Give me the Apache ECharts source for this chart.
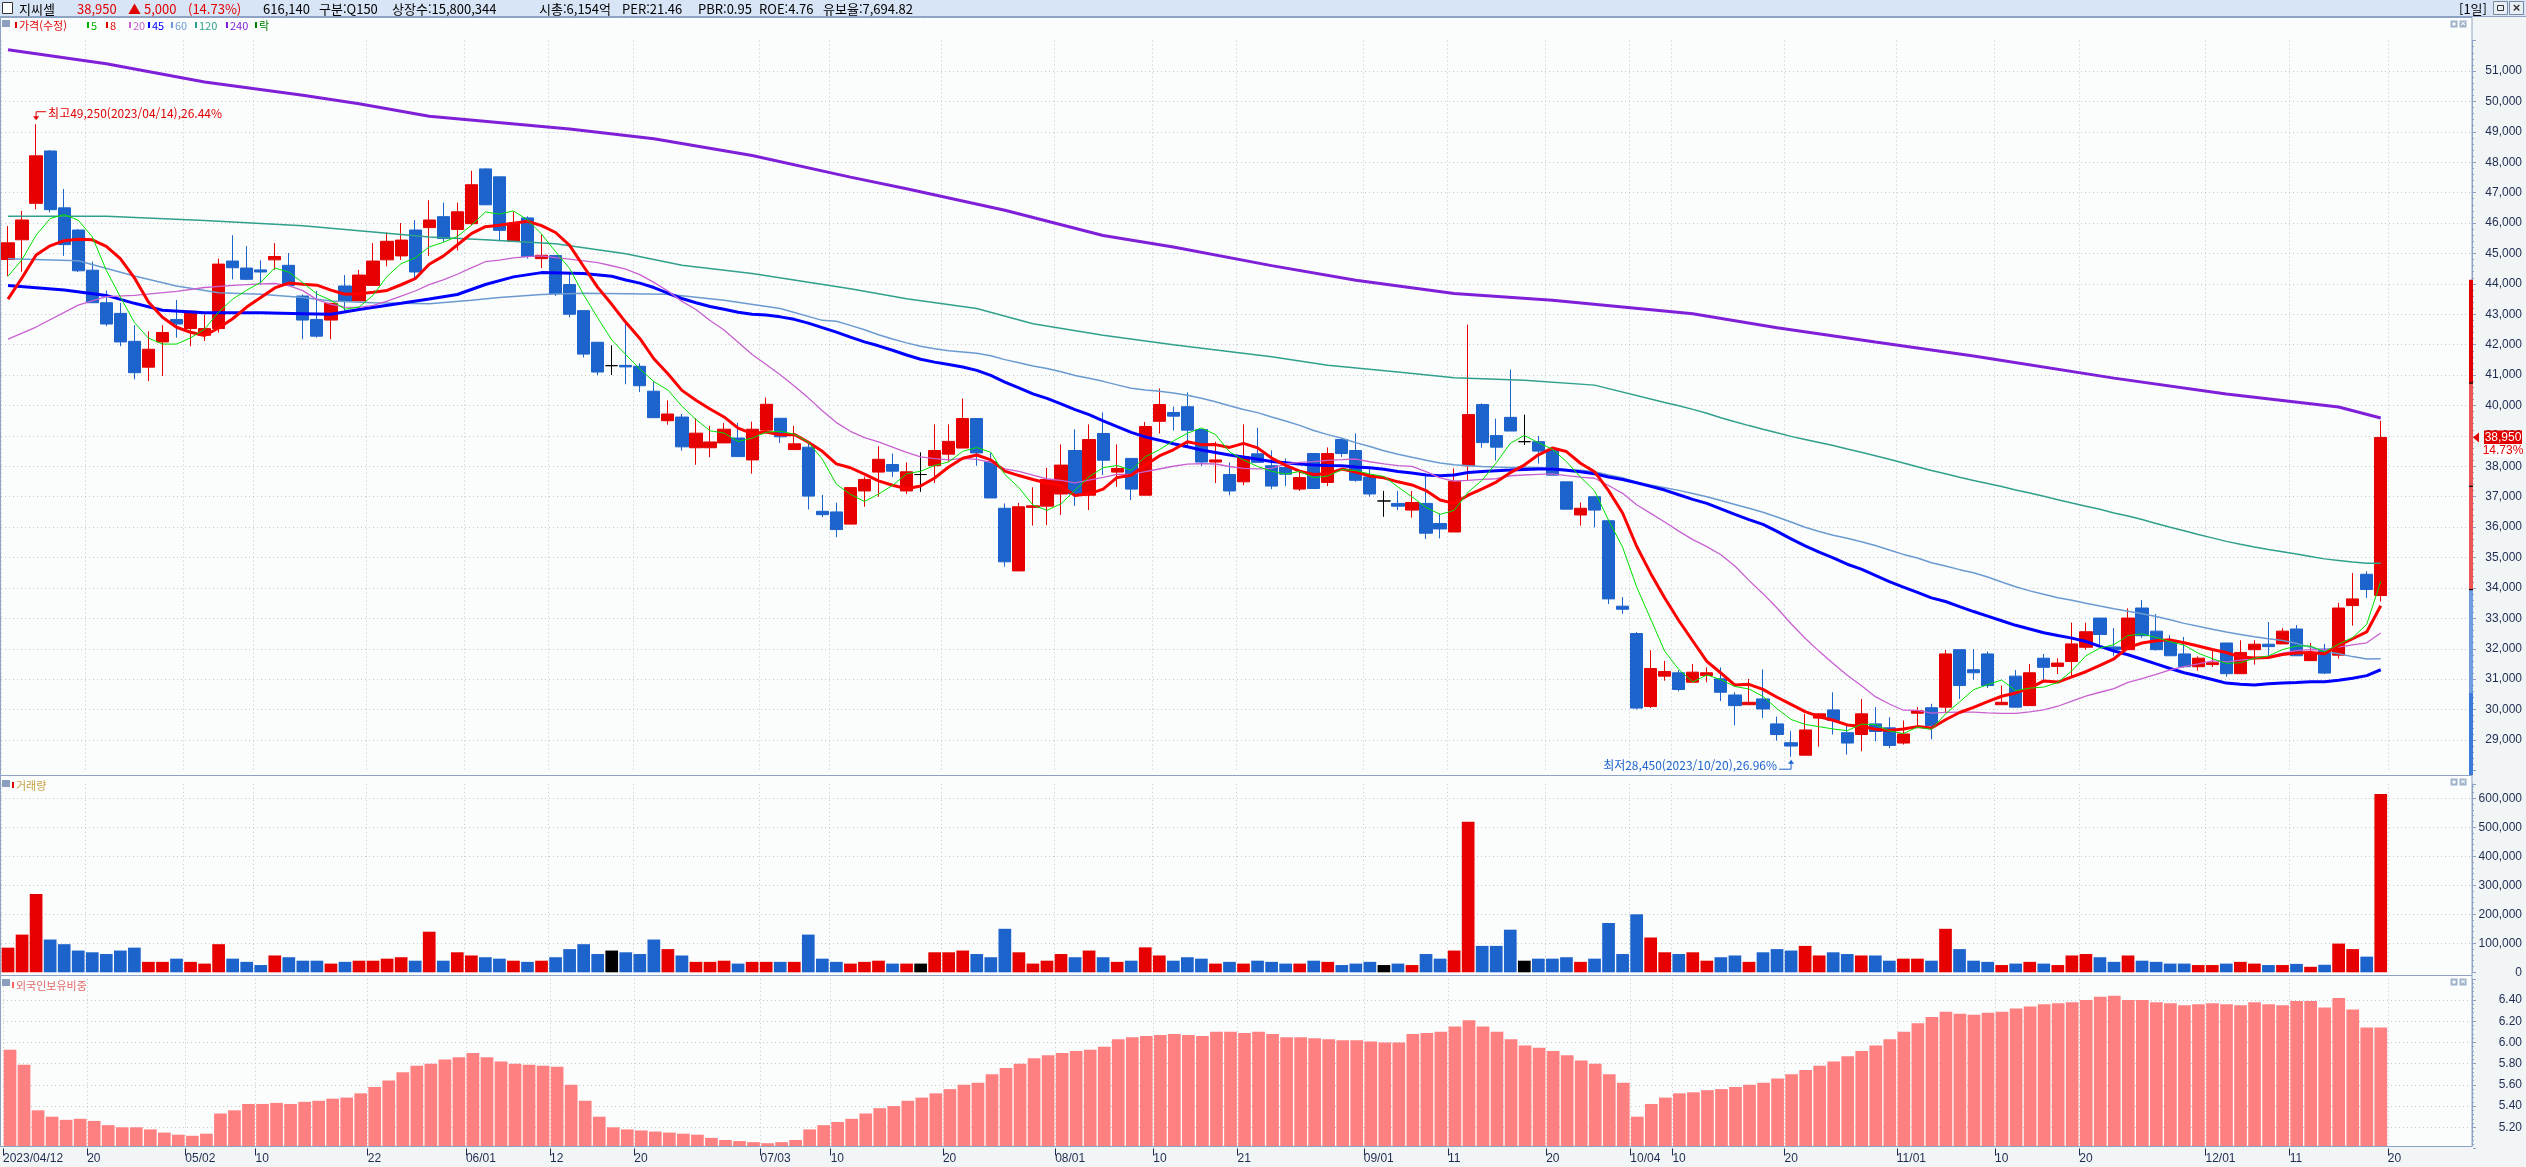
<!DOCTYPE html>
<html lang="ko">
<head>
<meta charset="utf-8">
<title>지씨셀 일봉</title>
<script src="https://cdn.jsdelivr.net/npm/echarts@6.0.0/dist/echarts.min.js"></script>
<style>
  html, body { margin: 0; padding: 0; background: #f2f5f6; }
  #chart { width: 2526px; height: 1167px; }
</style>
</head>
<body>
<div id="chart"></div>
<script>
// 거래일 2023
var dates = ['04/12','04/13','04/14','04/17','04/18','04/19','04/20','04/21','04/24','04/25','04/26','04/27','04/28',
  '05/02','05/03','05/04','05/08','05/09','05/10','05/11','05/12','05/15','05/16','05/17','05/18','05/19','05/22','05/23','05/24','05/25','05/26','05/30','05/31',
  '06/01','06/02','06/05','06/07','06/08','06/09','06/12','06/13','06/14','06/15','06/16','06/19','06/20','06/21','06/22','06/23','06/26','06/27','06/28','06/29','06/30',
  '07/03','07/04','07/05','07/06','07/07','07/10','07/11','07/12','07/13','07/14','07/17','07/18','07/19','07/20','07/21','07/24','07/25','07/26','07/27','07/28','07/31',
  '08/01','08/02','08/03','08/04','08/07','08/08','08/09','08/10','08/11','08/14','08/16','08/17','08/18','08/21','08/22','08/23','08/24','08/25','08/28','08/29','08/30','08/31',
  '09/01','09/04','09/05','09/06','09/07','09/08','09/11','09/12','09/13','09/14','09/15','09/18','09/19','09/20','09/21','09/22','09/25','09/26','09/27',
  '10/04','10/05','10/06','10/10','10/11','10/12','10/13','10/16','10/17','10/18','10/19','10/20','10/23','10/24','10/25','10/26','10/27','10/30','10/31',
  '11/01','11/02','11/03','11/06','11/07','11/08','11/09','11/10','11/13','11/14','11/15','11/16','11/17','11/20','11/21','11/22','11/23','11/24','11/27','11/28','11/29','11/30',
  '12/01','12/04','12/05','12/06','12/07','12/08','12/11','12/12','12/13','12/14','12/15','12/18','12/19'];

var opens = [44800,45450,46650,48370,46500,45770,44450,43380,43030,42110,41260,42090,42830,42530,42310,42530,44750,44520,44460,44790,
  44610,43600,42830,42810,43930,43440,43950,44790,44920,45770,45850,46210,45790,45980,47780,47520,45400,46170,44830,44930,
  43980,43120,42080,41310,41320,41290,40470,39500,39620,38610,38610,38770,38930,38210,39190,39580,38550,38630,36520,36500,
  36100,37190,37810,38060,37190,37730,38020,38400,38600,39570,38150,36620,34560,36650,36690,37090,38520,37050,39080,37810,
  38260,37050,39480,39770,39960,39210,38140,37730,37490,38410,38020,37960,37250,38420,37470,38880,38520,37650,36860,36780,
  36560,36780,36120,35840,38020,40030,39010,39610,38810,38810,38520,37490,36400,37000,36210,33400,32500,30100,31100,31210,
  30900,31120,31010,30480,30160,30350,29530,28910,28500,29720,29990,29240,29180,29530,29400,28900,29880,30060,30080,31970,
  31310,31830,30160,31100,30130,31690,31420,31580,32050,33010,32060,31970,33340,32580,32270,31830,31410,31480,32190,31180,
  31970,32150,32160,32650,31610,31990,31790,33420,34450,33750];
var highs = [45900,46400,49250,48400,47120,45800,44730,43780,43380,42640,42440,42640,43470,43100,42990,44830,45600,45240,44770,45340,
  45010,43650,43770,43360,44290,44460,45340,45690,46000,46100,46750,46670,46670,47720,47800,47520,46380,46220,45620,44930,
  44390,43120,42080,41980,42810,41390,40790,40170,39720,39580,39330,39430,39430,39470,40260,39580,39330,38820,37060,36800,
  37300,37660,38660,38420,38130,38460,39380,39380,40230,39570,38440,36780,36800,37310,37950,38720,39220,39380,39770,38720,
  38260,39460,40560,39960,40430,39210,38810,38130,39380,39270,38520,38260,37820,38420,38620,38880,39080,37910,37190,37190,
  37190,37770,36450,37930,42660,40070,39570,41180,39700,39000,38590,37490,36810,37000,36250,33700,32550,31950,31600,31300,
  31500,31390,31390,30570,31010,31320,29770,29290,29860,29860,30570,29480,30350,30080,29750,29640,30080,30190,31960,31970,
  31990,31910,30790,31300,31500,31830,31690,32860,32860,33010,32680,33330,33600,33140,32450,32390,31750,31940,32190,32280,
  32280,32880,32680,32780,32190,32160,33510,34490,34550,39500];
var lows = [44250,44400,46450,46350,44920,44390,43380,42610,41950,40860,40800,40970,42230,41950,42120,42400,44150,44120,43970,44460,
  43920,42180,42230,42180,43110,43440,43950,44580,44790,44150,44920,45380,45100,45920,46600,45400,45400,44830,44520,43600,
  42900,41580,41000,41000,40700,40440,39600,39370,38510,38050,38300,38770,38320,37760,39150,38770,38550,36580,36330,35670,
  36100,36670,37000,37650,37090,37160,37450,38150,38600,38020,36960,34700,34560,36050,36070,36400,36700,36560,37710,37330,
  36890,37050,39080,39180,38610,38010,37450,37050,37380,38130,37250,37350,37190,37250,37350,38310,37490,37000,36340,36560,
  36310,35610,35630,35840,37550,38610,38190,39160,38700,38090,37710,36590,36050,35990,33470,33150,30000,30050,30950,30600,
  30900,30900,30280,29480,30160,29720,28980,28450,28500,28780,29180,28520,28630,28960,28730,28850,29480,29020,29880,30350,
  30980,30710,30160,30070,30130,30980,31170,31080,31970,32130,31770,31970,32360,31940,31770,31380,31280,31400,31080,31180,
  31480,31750,32160,31770,31610,31170,31680,32760,33670,33550];
var closes = [45350,46100,48210,46440,45290,44430,43380,42680,42090,41080,41850,42400,42680,43100,42530,44650,44530,44150,44390,44900,
  43950,42810,42280,43360,43440,44290,44750,45400,45440,44390,46100,45490,46370,47260,46600,45760,46000,44900,44940,43680,
  43000,41690,41100,41310,41270,40650,39600,39720,38640,39090,38800,39220,38320,39220,40040,38970,38740,37020,36410,35920,
  37300,37570,38230,37840,37820,37730,38520,38820,39570,38440,36960,34860,36670,36700,37570,38040,37090,38880,38200,37930,
  37250,39310,40030,39650,39190,38140,38210,37190,38310,38130,37350,37740,37630,37270,38420,38420,37540,37090,36860,36690,
  36810,35800,35940,37510,39700,38780,38630,39160,38810,38500,37710,36590,36620,36560,33640,33300,30050,31350,31250,30660,
  31230,31210,30570,30130,30240,30020,29180,28800,29330,29860,29640,28900,29860,29280,28820,29200,29960,29480,31830,30790,
  31210,30790,30240,30080,31210,31390,31530,32160,32560,32470,31970,33010,32430,31970,31770,31410,31690,31540,31180,31880,
  32150,32070,32580,31770,31880,31200,33340,33640,33950,38950];
var volumes = [85000,130000,270000,113000,97000,75000,69000,63000,75000,85000,36000,36000,47000,36000,30000,97000,47000,36000,25000,58000,
  52000,40000,40000,30000,36000,40000,40000,47000,52000,40000,140000,40000,69000,58000,52000,47000,40000,36000,40000,52000,
  80000,97000,63000,75000,69000,63000,113000,80000,58000,36000,36000,40000,30000,36000,36000,36000,36000,130000,47000,36000,
  30000,36000,40000,30000,30000,30000,69000,69000,75000,63000,52000,150000,69000,30000,40000,63000,52000,75000,52000,36000,
  40000,86000,58000,40000,52000,47000,30000,36000,30000,40000,36000,30000,30000,40000,36000,25000,30000,36000,25000,30000,
  25000,63000,47000,75000,519000,91000,91000,147000,40000,47000,47000,52000,36000,47000,170000,63000,200000,120000,69000,63000,
  69000,40000,52000,58000,36000,69000,80000,75000,91000,58000,69000,63000,58000,58000,40000,47000,47000,40000,150000,80000,
  40000,36000,25000,30000,36000,30000,25000,58000,63000,52000,36000,58000,40000,36000,30000,30000,25000,25000,30000,36000,
  30000,25000,25000,29000,19000,26000,99000,80000,54000,615000];
var foreignRatio = [5.93,5.79,5.36,5.30,5.27,5.28,5.26,5.22,5.20,5.20,5.18,5.15,5.13,5.12,5.14,5.33,5.36,5.42,5.42,5.43,
  5.42,5.44,5.45,5.47,5.48,5.52,5.58,5.64,5.72,5.78,5.80,5.84,5.86,5.90,5.86,5.82,5.80,5.79,5.78,5.77,
  5.60,5.45,5.30,5.20,5.18,5.17,5.16,5.15,5.14,5.13,5.10,5.08,5.07,5.06,5.05,5.06,5.08,5.18,5.22,5.25,
  5.28,5.33,5.38,5.40,5.45,5.48,5.52,5.56,5.60,5.62,5.70,5.76,5.80,5.85,5.88,5.90,5.92,5.93,5.96,6.03,
  6.05,6.06,6.07,6.08,6.07,6.06,6.10,6.10,6.09,6.10,6.08,6.05,6.05,6.04,6.03,6.02,6.02,6.01,6.00,6.00,
  6.08,6.09,6.10,6.15,6.21,6.15,6.10,6.03,5.97,5.95,5.92,5.88,5.83,5.80,5.70,5.62,5.30,5.42,5.48,5.52,
  5.53,5.55,5.56,5.58,5.60,5.62,5.66,5.70,5.74,5.78,5.82,5.87,5.92,5.97,6.03,6.10,6.18,6.24,6.29,6.27,
  6.26,6.28,6.29,6.32,6.34,6.36,6.37,6.38,6.40,6.43,6.44,6.40,6.40,6.38,6.37,6.35,6.36,6.37,6.36,6.35,
  6.38,6.36,6.35,6.39,6.39,6.33,6.42,6.31,6.14,6.14];

// 이평선 앞부분 (화면에 보이는 값) [index, value]
var ma5Head = [[0,44250],[1,44800],[2,45600],[3,46150]];
var ma8Head = [[0,43500],[1,44200],[2,44950],[3,45250],[4,45420],[5,45470],[6,45450]];
var ma20Head = [[0,42180],[2,42580],[5,43300],[7,43580],[9,43620],[12,43750],[14,43880],[16,43950],[18,44000]];
var ma45Head = [[0,43950],[4,43800],[7,43620],[9,43360],[11,43130],[14,43050],[18,43050],[21,43020],[23,43000],
  [25,43160],[28,43360],[30,43500],[32,43650],[34,43980],[36,44230],[38,44370],[41,44340],[43,44250]];
var ma60Head = [[0,44830],[5,44760],[9,44260],[12,43930],[15,43710],[18,43660],[21,43550],[23,43440],[26,43380],
  [30,43350],[33,43460],[35,43550],[38,43650],[41,43690],[47,43660],[51,43460],[55,43190],[58,42800]];
var ma120Head = [[0,46220],[7,46220],[14,46080],[21,45910],[25,45750],[30,45540],[34,45450],[39,45320],[44,44990],
  [48,44610],[53,44340],[60,43840],[64,43510],[69,43190],[73,42690],[78,42310],[83,42000],[90,41600],[94,41320],
  [99,41100],[103,40910],[108,40830],[113,40670],[118,40100]];
var ma240Points = [[0,51700],[7,51240],[14,50640],[21,50200],[25,49920],[30,49510],[40,49090],[46,48770],[53,48220],
  [60,47510],[64,47130],[71,46420],[78,45590],[83,45210],[90,44600],[96,44120],[103,43680],[110,43460],[120,43020],
  [126,42560],[133,42090],[140,41630],[150,40900],[158,40380],[166,39950],[169,39590]];

var tickLabels = {'04/12':'2023/04/12','04/20':'20','05/02':'05/02','05/10':'10','05/22':'22','06/01':'06/01','06/12':'12',
  '06/20':'20','07/03':'07/03','07/10':'10','07/20':'20','08/01':'08/01','08/10':'10','08/21':'21','09/01':'09/01',
  '09/11':'11','09/20':'20','10/04':'10/04','10/10':'10','10/20':'20','11/01':'11/01','11/10':'10','11/20':'20',
  '12/01':'12/01','12/11':'11','12/20':'20'};

var prevClose = 33950;
var lastPrice = 38950;
// 가격대 바 (전일종가 대비 배율)
var limitBands = [[1.2, 1.3, '#e00000'], [1.0, 1.2, '#ec5555'], [0.9, 1.0, '#6f9de0'], [0.7, 0.9, '#3b7ad6']];
var limitMarks = [1.2, 1.1, 1.0];

var legendItems = [['가격(수정)', '#e00000', 15], ['5', '#00b000', 87], ['8', '#e00000', 106], ['20', '#c860d0', 129],
  ['45', '#0000ff', 148], ['60', '#6a9ad0', 171], ['120', '#30a08c', 195], ['240', '#7f1fd8', 226], ['락', '#008000', 255]];

var headerItems = [['지씨셀', 19, '#000'], ['38,950', 77, '#e00000'], ['▲ 5,000', 128, '#e00000'], ['(14.73%)', 188, '#e00000'],
  ['616,140', 263, '#000'], ['구분:Q150', 319, '#000'], ['상장수:15,800,344', 392, '#000'], ['시총:6,154억', 539, '#000'],
  ['PER:21.46', 622, '#000'], ['PBR:0.95', 698, '#000'], ['ROE:4.76', 759, '#000'], ['유보율:7,694.82', 823, '#000']];

var UP = '#e60000', DOWN = '#1d63cc', DOJI = '#000000';
var GRID_LINE = '#c3c8ce', AXIS = '#8ea3c3', LABEL = '#1e2b50', PANEL = '#fbfdfd', OUTER = '#f2f5f6';
var FONT_NUM = '"Liberation Sans", "Noto Sans CJK KR", sans-serif';
var FONT_KR = '"Noto Sans CJK KR", "Liberation Sans", sans-serif';

// 이동평균: 화면 밖 과거 데이터가 필요한 앞부분은 위에서 읽은 값을 사용
function movingAverage(n, head) {
  var out = [];
  for (var i = 0; i < closes.length; i++) {
    if (i >= n - 1) {
      var s = 0;
      for (var k = i - n + 1; k <= i; k++) s += closes[k];
      out.push(Math.round(s / n));
    } else {
      out.push(null);
    }
  }
  head.forEach(function (p) { out[p[0]] = p[1]; });
  return out;
}

var cats = dates.concat(['12/20', 'p1', 'p2', 'p3', 'p4', 'p5']);
var labelCats = cats.concat(['p6']);
function isTick(v) { return tickLabels.hasOwnProperty(v); }

function candleColor(i) {
  if (closes[i] > opens[i]) return UP;
  if (closes[i] < opens[i]) return DOWN;
  return DOJI;
}

var kData = opens.map(function (o, i) {
  var item = { value: [o, closes[i], lows[i], highs[i]] };
  if (o === closes[i]) {
    item.itemStyle = { color: DOJI, color0: DOJI, borderColor: DOJI, borderColor0: DOJI };
  }
  return item;
});

function xBase(grid) {
  return {
    type: 'category', gridIndex: grid, data: cats, boundaryGap: true,
    axisLine: { show: false }, axisTick: { show: false }, axisLabel: { show: false },
    splitLine: { show: true, interval: function (i, v) { return isTick(v); }, lineStyle: { color: GRID_LINE, type: [1, 3] } }
  };
}

function yBase(grid, min, max, interval, fmt, showMin) {
  return {
    type: 'value', gridIndex: grid, position: 'right', min: min, max: max, interval: interval,
    axisLine: { show: true, lineStyle: { color: AXIS } },
    axisTick: { show: true, length: 4, lineStyle: { color: AXIS } },
    minorTick: { show: true, splitNumber: 5, length: 2, lineStyle: { color: AXIS } },
    axisLabel: { color: LABEL, fontSize: 12, fontFamily: FONT_NUM, align: 'right', margin: 50,
      formatter: fmt, showMinLabel: showMin, showMaxLabel: false },
    splitLine: { show: true, showMinLine: false, showMaxLine: false, lineStyle: { color: GRID_LINE, type: [1, 3] } }
  };
}

function comma(v) { return echarts.format.addCommas(v); }

function maLine(name, data, color, width) {
  return {
    name: name, type: 'line', xAxisIndex: 0, yAxisIndex: 0, data: data, symbol: 'none',
    connectNulls: true, silent: true, z: 3,
    lineStyle: { color: color, width: width }
  };
}

var option = {
  backgroundColor: OUTER,
  animation: false,
  grid: [
    { left: 1, right: 54, top: 40.6, bottom: 396.6 },
    { left: 1, right: 54, top: 783.8, bottom: 194.7 },
    { left: 1, right: 54, top: 978.8, bottom: 18.5 }
  ],
  xAxis: [
    xBase(0), xBase(1), xBase(2),
    {
      type: 'category', gridIndex: 2, data: labelCats, boundaryGap: false, position: 'bottom', z: 10,
      axisLine: { show: false },
      axisTick: { show: true, length: 7, interval: function (i, v) { return isTick(v); }, lineStyle: { color: LABEL } },
      axisLabel: { show: true, interval: function (i, v) { return isTick(v); }, align: 'left', margin: 4,
        color: LABEL, fontSize: 12, fontFamily: FONT_NUM,
        formatter: function (v) { return tickLabels[v] || ''; } },
      splitLine: { show: false }
    }
  ],
  yAxis: [
    yBase(0, 28000, 52000, 1000, comma, false),
    yBase(1, 0, 650000, 100000, comma, true),
    yBase(2, 5.0, 6.6, 0.2, function (v) { return v.toFixed(2); }, false)
  ],
  series: [
    {
      name: '가격(수정)', type: 'candlestick', xAxisIndex: 0, yAxisIndex: 0, data: kData, barWidth: 12.7, z: 2,
      itemStyle: { color: UP, color0: DOWN, borderColor: UP, borderColor0: DOWN, borderWidth: 1 }
    },
    maLine('240', movingAverage(240, ma240Points), '#7f1fd8', 3),
    maLine('120', movingAverage(120, ma120Head), '#30a08c', 1.5),
    maLine('60', movingAverage(60, ma60Head), '#6a9ad0', 1.5),
    maLine('45', movingAverage(45, ma45Head), '#0000ff', 3),
    maLine('20', movingAverage(20, ma20Head), '#c860d0', 1.3),
    maLine('8', movingAverage(8, ma8Head), '#ff0000', 3),
    maLine('5', movingAverage(5, ma5Head), '#00e000', 1),
    {
      name: '거래량', type: 'bar', xAxisIndex: 1, yAxisIndex: 1, data: volumes, barWidth: 12.7,
      itemStyle: { color: function (p) { return candleColor(p.dataIndex); } }
    },
    {
      name: '외국인보유비중', type: 'bar', xAxisIndex: 2, yAxisIndex: 2, data: foreignRatio, barWidth: 12.7,
      itemStyle: { color: '#ff8080' }
    }
  ]
};

var chart = echarts.init(document.getElementById('chart'));
chart.setOption(option);

function px(grid, x, y) {
  return chart.convertToPixel({ xAxisIndex: grid, yAxisIndex: grid }, [x, y]);
}

var PLOT_R = 2472;
var g = [];
function rect(x, y, w, h, fill, stroke, z) {
  g.push({ type: 'rect', silent: true, z: z, shape: { x: x, y: y, width: w, height: h },
    style: { fill: fill, stroke: stroke || null, lineWidth: 1 } });
}
function text(str, x, y, color, font, align, z) {
  g.push({ type: 'text', silent: true, z: z || 20, x: x, y: y,
    style: { text: str, fill: color, font: font, align: align || 'left', verticalAlign: 'middle' } });
}

// 패널 배경
rect(0.5, 17.5, PLOT_R - 0.5, 758, PANEL, AXIS, -10);
rect(0.5, 775.5, PLOT_R - 0.5, 200, PANEL, AXIS, -10);
rect(0.5, 975.5, PLOT_R - 0.5, 171, PANEL, AXIS, -10);
// 날짜축 띠 (하단 막대 넘침 가림)
rect(0, 1146.5, PLOT_R + 1, 21, OUTER, null, 5);
g.push({ type: 'line', silent: true, z: 6, shape: { x1: 0, y1: 1146.5, x2: PLOT_R, y2: 1146.5 }, style: { stroke: AXIS, lineWidth: 1 } });

// 상단 헤더
rect(0, 0, 2526, 17, '#d8e5f6', null, 15);
g.push({ type: 'line', silent: true, z: 16, shape: { x1: 0, y1: 16.5, x2: 2526, y2: 16.5 }, style: { stroke: AXIS, lineWidth: 1 } });
rect(2.5, 2.5, 10, 11, '#ffffff', '#333333', 16);
headerItems.forEach(function (h) { text(h[0], h[1], 9, h[2], '13px ' + FONT_KR); });
text('[1일]', 2459, 9, '#000', '13px ' + FONT_KR);
rect(2493.5, 1.5, 14, 13, '#e8eef6', '#7a8aa0', 16);
rect(2497.5, 5.5, 6, 5, null, '#333', 17);
rect(2509.5, 1.5, 14, 13, '#e8eef6', '#7a8aa0', 16);
text('×', 2516.5, 8.5, '#333', 'bold 13px ' + FONT_NUM, 'center', 17);

// 범례 / 패널 제목
rect(2, 20, 8, 7, '#8c9fbf', null, 16);
legendItems.forEach(function (it) {
  rect(it[2], 22, 2, 6, it[1], null, 16);
  text(it[0], it[2] + 4, 25.5, it[1], '11px ' + FONT_KR);
});
rect(2, 780, 8, 7, '#8c9fbf', null, 16);
rect(12, 782, 2, 6, '#e00000', null, 16);
text('거래량', 16, 785.5, '#c8a040', '11px ' + FONT_KR);
rect(2, 979, 8, 7, '#8c9fbf', null, 16);
rect(12, 982, 2, 6, '#ff6060', null, 16);
text('외국인보유비중', 16, 985.5, '#e06868', '11px ' + FONT_KR);

// 패널 우상단 아이콘
[20.5, 778.5, 978.5].forEach(function (y) {
  rect(2450.5, y, 7, 7, '#9fb2cc', null, 16);
  rect(2452.5, y + 2, 3, 3, '#ffffff', null, 17);
  rect(2459.5, y, 7, 7, '#9fb2cc', null, 16);
  text('×', 2463, y + 3.5, '#ffffff', 'bold 8px ' + FONT_NUM, 'center', 17);
});

// 가격대 바
var panelBottom = 775;
limitBands.forEach(function (b) {
  var yTop = Math.max(17.5, px(0, 0, prevClose * b[1])[1]);
  var yBot = Math.min(panelBottom, px(0, 0, prevClose * b[0])[1]);
  if (yBot > yTop) rect(2469, yTop, 4, yBot - yTop, b[2], null, 12);
});
limitMarks.forEach(function (m) {
  var y = px(0, 0, prevClose * m)[1];
  rect(2469, y - 0.5, 4, 1.2, '#000', null, 13);
});

// 현재가 표시
var yLast = px(0, 0, lastPrice)[1];
g.push({ type: 'polygon', silent: true, z: 13, shape: { points: [[2473, yLast], [2479, yLast - 5], [2479, yLast + 5]] }, style: { fill: '#e00000' } });
rect(2484, yLast - 7, 38, 13.5, '#e00000', null, 13);
text(comma(lastPrice), 2503, yLast, '#ffffff', '12px ' + FONT_NUM, 'center', 14);
rect(2484, yLast + 7, 38, 12.5, '#ffffff', null, 13);
text(((lastPrice - prevClose) / prevClose * 100).toFixed(2) + '%', 2503, yLast + 13, '#e00000', '12px ' + FONT_NUM, 'center', 14);

// 최고/최저 표시
var hiIdx = 0, loIdx = 0;
for (var i = 1; i < highs.length; i++) {
  if (highs[i] > highs[hiIdx]) hiIdx = i;
  if (lows[i] < lows[loIdx]) loIdx = i;
}
var hp = px(0, hiIdx, highs[hiIdx]);
var hiPct = ((highs[hiIdx] - lastPrice) / lastPrice * 100).toFixed(2);
g.push({ type: 'polyline', silent: true, z: 12, shape: { points: [[hp[0] + 10, hp[1] - 12.5], [hp[0], hp[1] - 12.5], [hp[0], hp[1] - 6]] }, style: { stroke: '#e00000', lineWidth: 1, fill: null } });
g.push({ type: 'polygon', silent: true, z: 12, shape: { points: [[hp[0] - 3, hp[1] - 8], [hp[0] + 3, hp[1] - 8], [hp[0], hp[1] - 4]] }, style: { fill: '#e00000' } });
text('최고' + comma(highs[hiIdx]) + '(2023/' + dates[hiIdx] + '),' + hiPct + '%', hp[0] + 12, hp[1] - 11, '#e00000', '12px ' + FONT_KR, 'left', 12);

var lp = px(0, loIdx, lows[loIdx]);
var loPct = ((lastPrice - lows[loIdx]) / lastPrice * 100).toFixed(2);
g.push({ type: 'polyline', silent: true, z: 12, shape: { points: [[lp[0] - 12, lp[1] + 12.5], [lp[0], lp[1] + 12.5], [lp[0], lp[1] + 5]] }, style: { stroke: '#1d63cc', lineWidth: 1, fill: null } });
g.push({ type: 'polygon', silent: true, z: 12, shape: { points: [[lp[0] - 3, lp[1] + 7], [lp[0] + 3, lp[1] + 7], [lp[0], lp[1] + 3]] }, style: { fill: '#1d63cc' } });
text('최저' + comma(lows[loIdx]) + '(2023/' + dates[loIdx] + '),' + loPct + '%', lp[0] - 14, lp[1] + 9, '#1d63cc', '12px ' + FONT_KR, 'right', 12);

chart.setOption({ graphic: { elements: g } });
</script>
</body>
</html>
